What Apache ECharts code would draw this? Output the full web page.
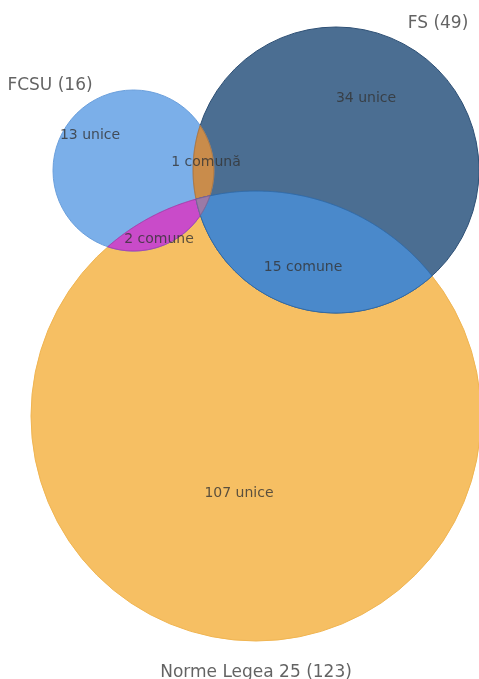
<!DOCTYPE html>
<html>
<head>
<meta charset="utf-8">
<script src="https://cdn.jsdelivr.net/npm/echarts@6/dist/echarts.min.js"></script>
<style>html,body{margin:0;padding:0;background:#fff}#c{width:479px;height:679px}</style>
</head>
<body>
<div id="c"></div>
<script>
// ---- data ----
const setNames = ['FCSU', 'FS', 'Norme Legea 25'];
const setTotals = [16, 49, 123];
const circleX = [133.5, 336, 256];
const circleY = [170.5, 170, 416];
const circleR = [80.5, 143, 225];
const setLabelX = [50, 438, 256];
const setLabelY = [86, 24, 673];

// regions: sets involved
const regionSets = [[2], [1], [0], [0, 1], [0, 2], [1, 2], [0, 1, 2]];
const regionFill = ['#f6bf63', '#4b6e92', '#7bafe9', '#c98c4b', '#c94bc9', '#4a89cb', '#9b7aa6'];
const regionStroke = ['#f0b552', '#2e5075', '#6a9fdc', '#a8703a', '#a83aa8', '#2f6aa8', '#7e6290'];

const regionLabels = ['13 unice', '34 unice', '107 unice', '1 comună', '2 comune', '15 comune'];
const regionLabelX = [90, 366, 239, 206, 159, 303];
const regionLabelY = [135, 98, 493, 162, 239, 267];

// ---- helpers ----
function inside(p, c) { return Math.hypot(p[0] - c.x, p[1] - c.y) <= c.r + 0.05; }
function intersections(a, b) {
  const dx = b.x - a.x, dy = b.y - a.y, d = Math.hypot(dx, dy);
  if (d > a.r + b.r || d < Math.abs(a.r - b.r)) return [];
  const l = (a.r * a.r - b.r * b.r + d * d) / (2 * d);
  const h = Math.sqrt(Math.max(0, a.r * a.r - l * l));
  const mx = a.x + dx * l / d, my = a.y + dy * l / d;
  return [[mx + h * dy / d, my - h * dx / d], [mx - h * dy / d, my + h * dx / d]];
}
function regionPolygon(cs) {
  let pts = [];
  const N = 1440;
  cs.forEach((c, i) => {
    for (let k = 0; k < N; k++) {
      const t = 2 * Math.PI * k / N;
      const p = [c.x + c.r * Math.cos(t), c.y + c.r * Math.sin(t)];
      if (cs.every((o, j) => j === i || inside(p, o))) pts.push(p);
    }
  });
  for (let i = 0; i < cs.length; i++)
    for (let j = i + 1; j < cs.length; j++)
      intersections(cs[i], cs[j]).forEach(p => { if (cs.every(o => inside(p, o))) pts.push(p); });
  if (!pts.length) return pts;
  const mx = pts.reduce((s, p) => s + p[0], 0) / pts.length;
  const my = pts.reduce((s, p) => s + p[1], 0) / pts.length;
  pts.sort((a, b) => Math.atan2(a[1] - my, a[0] - mx) - Math.atan2(b[1] - my, b[0] - mx));
  return pts;
}

const chart = echarts.init(document.getElementById('c'));
const font = 'DejaVu Sans';

chart.setOption({
  animation: false,
  backgroundColor: '#ffffff',
  grid: { left: 0, right: 0, top: 0, bottom: 0, containLabel: false },
  xAxis: { type: 'value', min: 0, max: 479, show: false },
  yAxis: { type: 'value', min: 0, max: 679, inverse: true, show: false },
  series: [
    {
      type: 'custom',
      clip: false,
      data: regionSets.map((s, i) => [i]),
      renderItem: function (params, api) {
        const idx = api.value(0);
        const cs = [0, 1, 2].map(k => {
          const c = api.coord([circleX[k], circleY[k]]);
          const r = Math.abs(api.size([circleR[k], circleR[k]])[0]);
          return { x: c[0], y: c[1], r: r };
        });
        const sets = regionSets[idx];
        const style = { fill: regionFill[idx], stroke: regionStroke[idx], lineWidth: 1 };
        if (sets.length === 1) {
          const c = cs[sets[0]];
          return { type: 'circle', shape: { cx: c.x, cy: c.y, r: c.r }, style: style };
        }
        return { type: 'polygon', shape: { points: regionPolygon(sets.map(k => cs[k])) }, style: style };
      }
    },
    {
      type: 'scatter',
      symbolSize: 0,
      silent: true,
      data: regionLabels.map((t, i) => [regionLabelX[i], regionLabelY[i], t]),
      label: {
        show: true, position: 'inside', formatter: p => p.data[2],
        color: '#333333', fontFamily: font, fontSize: 14
      }
    },
    {
      type: 'scatter',
      symbolSize: 0,
      silent: true,
      data: setNames.map((n, i) => [setLabelX[i], setLabelY[i], n + ' (' + setTotals[i] + ')']),
      label: {
        show: true, position: 'inside', formatter: p => p.data[2],
        color: '#3c3c3c', fontFamily: font, fontSize: 17
      }
    }
  ]
});
</script>
</body>
</html>
